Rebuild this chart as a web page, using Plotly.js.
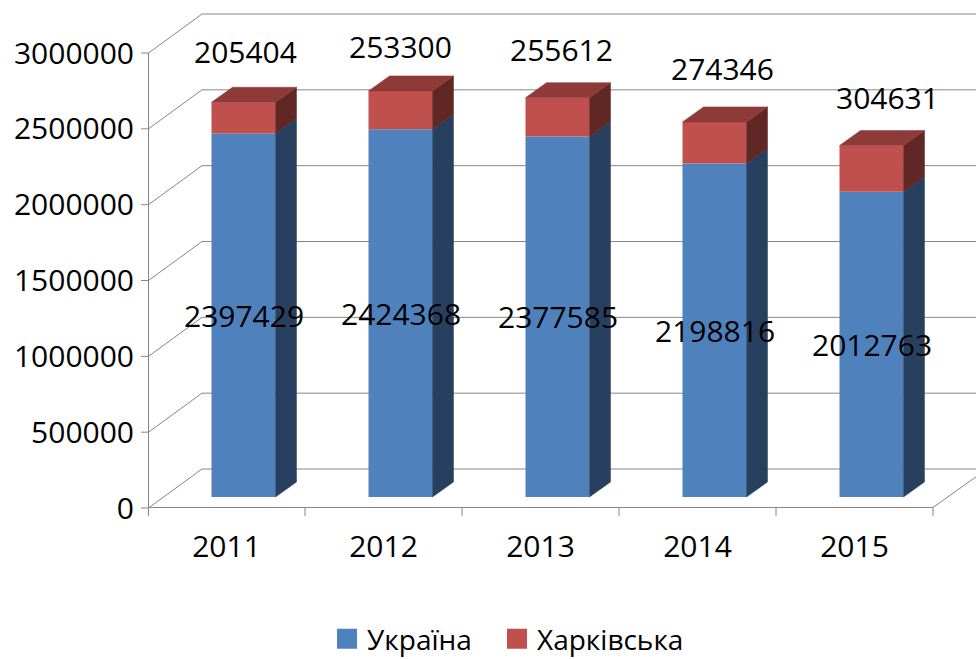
<!DOCTYPE html>
<html><head><meta charset="utf-8">
<script src="https://cdn.plot.ly/plotly-3.0.1.min.js"></script>
<style>html,body{margin:0;padding:0;background:#fff}</style>
</head><body><div id="chart" style="width:976px;height:659px"></div>
<script>
// ---- data ----
const years = ['2011', '2012', '2013', '2014', '2015'];
const ukraineValues = [2397429, 2424368, 2377585, 2198816, 2012763];
const kharkivValues = [205404, 253300, 255612, 274346, 304631];
const seriesNames = ['Україна', 'Харківська'];
const yTickValues = [0, 500000, 1000000, 1500000, 2000000, 2500000, 3000000];

// ---- style / geometry (pixels) ----
const labelShiftX = [2, 0, 4, 8, 16];
const labelGap = [51, 44, 48, 53, 48];
const W = 976, H = 659, mL = 139, mR = 0, mT = 5, mB = 141;
const plotW = W - mL - mR, plotH = H - mT - mB;
const pxPerY = 455 / 3000000, pxPerX = 157;
const ux = p => p / pxPerX, uy = p => p / pxPerY;
const xMin = -0.5 - ux(9), xMax = xMin + ux(plotW);
const yMin = -uy(10), yMax = yMin + uy(plotH);
const wallDX = ux(54), wallDY = uy(39);
const barShift = ux(17), barBase = uy(11), barW = ux(64);
const sideDX = ux(21), sideDY = uy(15);
const FONT = 'Open Sans, Noto Sans, sans-serif';
const gridColor = '#868686';
const blue = '#4F81BD', blueSide = '#28405F', red = '#C0504D', redTop = '#8D3A38', redSide = '#612725';

const nCat = years.length;
const catIdx = years.map((_, i) => i);
const barX = catIdx.map(i => i + barShift);

// ---- shapes: walls, gridlines, axes frame ----
const shapes = [];
const frontX = -0.5 + ux(0.5);
yTickValues.forEach(v => {
  shapes.push({type: 'path', xref: 'x', yref: 'y', layer: 'below',
    path: `M${frontX},${v} L${-0.5 + wallDX},${v + wallDY} L${xMax + 1},${v + wallDY}`,
    line: {color: gridColor, width: 1}});
  shapes.push({type: 'line', xref: 'x', yref: 'y', layer: 'below',
    x0: -0.5 - ux(7), x1: frontX, y0: v, y1: v, line: {color: gridColor, width: 1}});
});
shapes.push({type: 'line', xref: 'x', yref: 'y', layer: 'below',
  x0: frontX, x1: frontX, y0: 0, y1: yTickValues[yTickValues.length - 1], line: {color: gridColor, width: 1}});
shapes.push({type: 'path', xref: 'x', yref: 'y', layer: 'below',
  path: `M${frontX},${uy(0.5)} L${nCat - 0.5},${uy(0.5)} L${nCat - 0.5 + wallDX},${wallDY}`,
  line: {color: gridColor, width: 1}});
for (let b = 0; b <= nCat; b++) {
  const xb = b - 0.5 + (b === 0 ? ux(0.5) : 0);
  shapes.push({type: 'line', xref: 'x', yref: 'y', layer: 'below',
    x0: xb, x1: xb, y0: 0, y1: -uy(8), line: {color: gridColor, width: 1}});
}

// ---- traces ----
const traces = [];
traces.push({type: 'bar', x: barX, y: ukraineValues, base: barX.map(() => barBase), width: barW,
  marker: {color: blue}, showlegend: false, hoverinfo: 'skip', name: seriesNames[0]});
traces.push({type: 'bar', x: barX, y: kharkivValues, base: ukraineValues.map(v => barBase + v), width: barW,
  marker: {color: red}, showlegend: false, hoverinfo: 'skip', name: seriesNames[1]});

function poly(xs, ys, color) {
  traces.push({type: 'scatter', mode: 'lines', x: xs, y: ys, fill: 'toself', fillcolor: color,
    line: {color: color, width: 0.5}, showlegend: false, hoverinfo: 'skip'});
}
catIdx.forEach(i => {
  const xr = barX[i] + barW / 2, xl = barX[i] - barW / 2;
  const b0 = barBase, b1 = barBase + ukraineValues[i], b2 = b1 + kharkivValues[i];
  poly([xr, xr + sideDX, xr + sideDX, xr, xr], [b0, b0 + sideDY, b1 + sideDY, b1, b0], blueSide);
  poly([xr, xr + sideDX, xr + sideDX, xr, xr], [b1, b1 + sideDY, b2 + sideDY, b2, b1], redSide);
  poly([xl, xr, xr + sideDX, xl + sideDX, xl], [b2, b2, b2 + sideDY, b2 + sideDY, b2], redTop);
});

// legend entries
traces.push({type: 'scatter', mode: 'markers', x: [null], y: [null], name: seriesNames[0], legend: 'legend',
  marker: {symbol: 'square', size: 20, color: blue, line: {color: blue, width: 4}}});
traces.push({type: 'scatter', mode: 'markers', x: [null], y: [null], name: seriesNames[1], legend: 'legend2',
  marker: {symbol: 'square', size: 20, color: red, line: {color: red, width: 4}}});

// ---- annotations (data labels) ----
const annotations = [];
catIdx.forEach(i => {
  annotations.push({xref: 'x', yref: 'y', x: barX[i], y: barBase + ukraineValues[i] / 2,
    text: String(ukraineValues[i]), showarrow: false, xanchor: 'center', yanchor: 'middle',
    font: {family: FONT, size: 30, color: '#000'}});
  annotations.push({xref: 'x', yref: 'y', x: barX[i], y: barBase + ukraineValues[i] + kharkivValues[i],
    text: String(kharkivValues[i]), showarrow: false, xanchor: 'center', yanchor: 'middle',
    xshift: labelShiftX[i], yshift: labelGap[i],
    font: {family: FONT, size: 30, color: '#000'}});
});

const legendBase = {orientation: 'h', xanchor: 'left', y: -0.1872, yanchor: 'top',
  font: {family: FONT, size: 28, color: '#000'}, bgcolor: 'rgba(0,0,0,0)'};

const layout = {
  width: W, height: H,
  margin: {l: mL, r: mR, t: mT, b: mB, pad: 0, autoexpand: false},
  paper_bgcolor: '#fff', plot_bgcolor: 'rgba(0,0,0,0)',
  barmode: 'overlay',
  font: {family: FONT, size: 30, color: '#000'},
  xaxis: {range: [xMin, xMax], tickvals: catIdx, ticktext: years, ticks: '', showgrid: false,
    zeroline: false, showline: false, ticklabelstandoff: 8, automargin: false,
    tickfont: {family: FONT, size: 30, color: '#000'}, fixedrange: true},
  yaxis: {range: [yMin, yMax], tickvals: yTickValues, ticktext: yTickValues.map(String), ticks: '',
    showgrid: false, zeroline: false, showline: false, ticklabelstandoff: 4, automargin: false,
    tickfont: {family: FONT, size: 30, color: '#000'}, fixedrange: true},
  shapes: shapes,
  annotations: annotations,
  showlegend: true,
  legend: Object.assign({}, legendBase, {x: 0.2246}),
  legend2: Object.assign({}, legendBase, {x: 0.4277})
};

Plotly.newPlot('chart', traces, layout, {staticPlot: true, displayModeBar: false});
</script></body></html>
